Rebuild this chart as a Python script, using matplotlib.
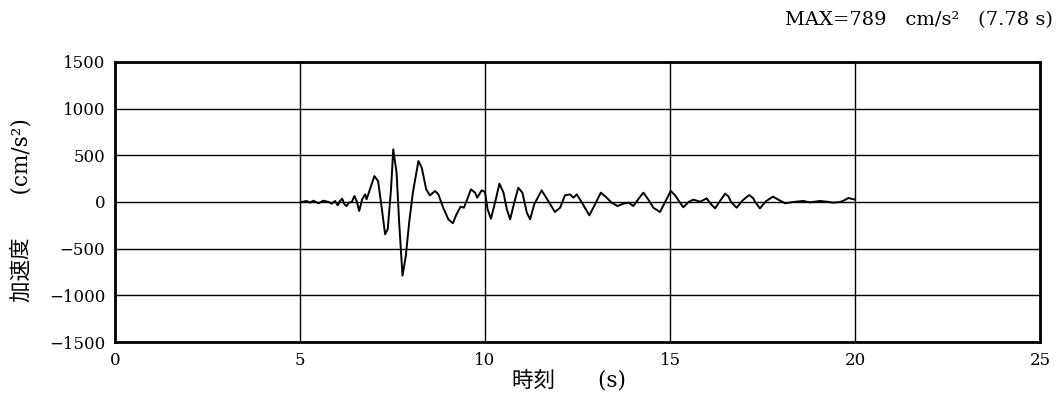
import matplotlib.pyplot as plt

plt.rcParams['font.family'] = ['DejaVu Serif', 'Noto Sans CJK JP']

# time (s) and acceleration (cm/s^2)
time_s = [5.04, 5.18, 5.27, 5.36, 5.50, 5.63, 5.77, 5.86, 5.95, 6.02, 6.08, 6.14, 6.20,
          6.26, 6.32, 6.40, 6.47, 6.53, 6.60, 6.68, 6.76, 6.80, 6.89, 7.01, 7.11, 7.19,
          7.30, 7.37, 7.46, 7.52, 7.61, 7.68, 7.77, 7.86, 7.95, 8.05, 8.20, 8.29, 8.41,
          8.51, 8.65, 8.74, 8.87, 9.01, 9.13, 9.23, 9.34, 9.43, 9.52, 9.62, 9.73, 9.79,
          9.91, 10.00, 10.07, 10.16, 10.27, 10.39, 10.50, 10.59, 10.68, 10.79, 10.90,
          11.01, 11.13, 11.22, 11.33, 11.53, 11.71, 11.89, 12.03, 12.16, 12.30, 12.39,
          12.48, 12.61, 12.70, 12.82, 12.95, 13.13, 13.29, 13.42, 13.58, 13.74, 13.88,
          14.01, 14.14, 14.28, 14.41, 14.55, 14.73, 14.86, 15.02, 15.14, 15.27, 15.36,
          15.50, 15.63, 15.72, 15.81, 15.90, 15.99, 16.10, 16.22, 16.35, 16.49, 16.58,
          16.65, 16.80, 16.97, 17.14, 17.25, 17.30, 17.43, 17.60, 17.78, 17.95, 18.11,
          18.33, 18.60, 18.78, 19.05, 19.25, 19.41, 19.60, 19.72, 19.82, 19.95, 20.00]
accel = [0, 11, -7, 14, -14, 14, 0, -18, 11, -36, 11, 36, -25,
         -43, -7, 0, 64, 11, -96, 29, 82, 29, 136, 278, 225, -7,
         -346, -293, 136, 564, 314, -221, -789, -578, -221, 100, 439, 368, 136,
         71, 118, 82, -61, -186, -228, -132, -50, -61, 29, 136, 100, 46,
         125, 107, -79, -179, -7, 196, 100, -79, -186, -7, 153,
         100, -114, -186, -25, 125, 11, -107, -61, 71, 82, 46,
         82, 0, -61, -143, -43, 100, 46, -7, -43, -18, -7,
         -43, 29, 100, 29, -61, -107, -7, 118, 71, -7, -57,
         0, 25, 15, 3, 20, 39, -20, -68, 10, 89, 60,
         0, -61, 20, 75, 40, 0, -68, 10, 57, 20, -14,
         0, 11, -4, 11, 3, -7, 0, 20, 43, 30, 25]

x_ticks = [0, 5, 10, 15, 20, 25]
y_ticks = [-1500, -1000, -500, 0, 500, 1000, 1500]

fig = plt.figure(figsize=(10.61, 4.18), dpi=100)
ax = fig.add_axes([0.1084, 0.1818, 0.8718, 0.6699])

ax.plot(time_s, accel, color='black', linewidth=1.4)

ax.set_xlim(0, 25)
ax.set_ylim(-1500, 1500)
ax.set_xticks(x_ticks)
ax.set_yticks(y_ticks)
ax.set_yticklabels([str(v).replace('-', '\u2212') for v in y_ticks])
ax.tick_params(length=0, labelsize=12, pad=7)
ax.grid(True, color='black', linewidth=1.0)
ax.set_axisbelow(True)
for s in ax.spines.values():
    s.set_linewidth(2)

fig.text(569 / 1061, 1 - 381 / 418, '時刻\u3000\u3000(s)', ha='center', va='center', fontsize=15.5)
fig.text(22 / 1061, 1 - 210 / 418, '加速度\u3000\u3000(cm/s²)', ha='center', va='center',
         rotation=90, fontsize=15.5)
fig.text(1053 / 1061, 1 - 20 / 418, 'MAX=789   cm/s²   (7.78 s)', ha='right', va='center',
         fontsize=14)

fig.savefig('out.png', dpi=100)
